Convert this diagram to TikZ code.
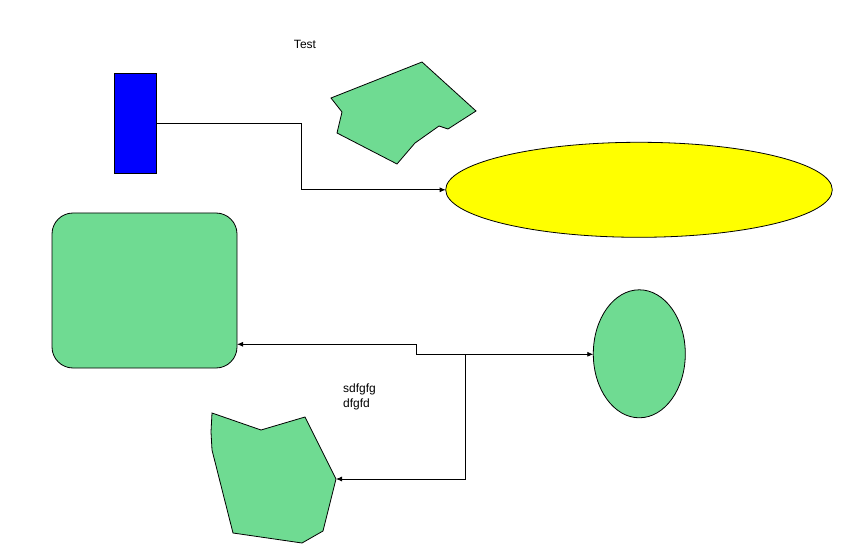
\documentclass[tikz,border=0pt]{standalone}
\usepackage{fontspec}
\setmainfont{Liberation Sans}
\usetikzlibrary{arrows.meta,shapes.geometric}
\definecolor{shgreen}{RGB}{111,219,146}
\definecolor{shblue}{RGB}{0,0,255}
\definecolor{shyellow}{RGB}{255,255,0}
\tikzset{
  shape line/.style={draw=black,line width=0.8pt},
  greenshape/.style={shape line,fill=shgreen},
  conn/.style={draw=black,line width=0.8pt},
  connarrow/.style={conn,-{Latex[length=6pt,width=5pt]}},
  lbl/.style={font=\fontsize{12}{15}\selectfont,inner sep=0pt,align=left},
}
\begin{document}
\begin{tikzpicture}[x=1pt,y=-1pt]
\useasboundingbox[fill=white] (0,0) rectangle (843,553);

% blue rectangle
\node[shape line,fill=shblue,rectangle,minimum width=42.4pt,minimum height=100pt,inner sep=0pt,outer sep=0pt] (blue) at (135.5,123.3) {};

% yellow ellipse
\node[shape line,fill=shyellow,ellipse,minimum width=386.6pt,minimum height=95pt,inner sep=0pt,outer sep=0pt] (yell) at (639,189.8) {};

% rounded rectangle
\node[greenshape,rectangle,rounded corners=21pt,minimum width=185pt,minimum height=155pt,inner sep=0pt,outer sep=0pt] (rr) at (144.5,290.5) {};

% green ellipse (circle)
\node[greenshape,ellipse,minimum width=92pt,minimum height=128pt,inner sep=0pt,outer sep=0pt] (circ) at (639.3,353.8) {};

% top polygon
\draw[greenshape] (331,98) -- (422,62) -- (476,111) -- (448,129) -- (439,126) -- (415,143) -- (397,164) -- (337,133) -- (342,112) -- cycle;

% bottom polygon
\draw[greenshape] (212,413) -- (261,430) -- (305,417) -- (336,479) -- (323,531) -- (302,543) -- (233,533) -- (212,450) -- (211,432) -- cycle;
\coordinate (poly) at (336,479);

% texts
\node[lbl] (test) at (305,44.5) {Test};
\node[lbl,anchor=north west] (txt) at (343,383.6) {sdfgfg\\dfgfd};

% connectors
\draw[connarrow] (blue.east) -- (301.3,123.3) |- (yell.west);

\coordinate (j) at (465.3,354.3);
\coordinate (step) at (416.3,344.3);
\draw[connarrow] (j) -- (circ.west |- j);
\draw[connarrow] (j) -- (step |- j) -- (step) -- (rr.east |- step);
\draw[connarrow] (j) -- (j |- poly) -- (poly);
\end{tikzpicture}
\end{document}
